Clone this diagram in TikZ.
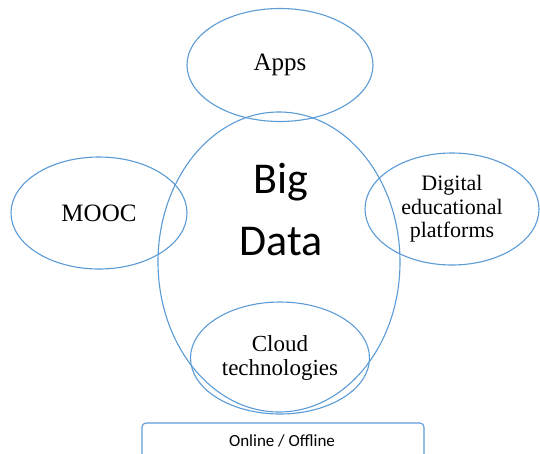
\documentclass[tikz,border=0pt]{standalone}
\usepackage{fontspec}
\setmainfont{Liberation Serif}
\newfontfamily\calibri{Carlito}
\usetikzlibrary{shapes.geometric}

\definecolor{ringblue}{RGB}{91,155,213}

\begin{document}
\begin{tikzpicture}[x=1pt, y=-1pt,
  ring/.style={draw=ringblue, line width=1.1pt, ellipse, inner sep=0pt,
    align=center, font=\fontsize{23}{23.5}\selectfont},
  tag/.style={draw=ringblue, line width=1.1pt, rounded corners=4pt}]

\useasboundingbox (0,0) rectangle (540,453);
\clip (0,0) rectangle (540,453);

% Centre ring
\node[ring, minimum width=242pt, minimum height=300pt] (core) at (279,262) {};
\node[align=center, font=\calibri\fontsize{44}{62}\selectfont] (bigdata) at (281,210) {Big\\Data};

% Outer rings
\node[ring, minimum width=186pt, minimum height=113pt, font=\fontsize{25}{25}\selectfont] (apps) at (280,65) {Apps};
\node[ring, minimum width=176pt, minimum height=112pt, font=\fontsize{25}{25}\selectfont] (mooc) at (99,213) {MOOC};
\node[ring, minimum width=174pt, minimum height=112pt, font=\fontsize{22}{23.5}\selectfont] (edu) at (452,209) {Digital\\educational\\platforms};
\node[ring, minimum width=179pt, minimum height=112pt] (cloud) at (280,358) {Cloud\\technologies};

% Bottom label box
\draw[tag] (142,423) rectangle (424,470);
\node[font=\calibri\fontsize{17}{18}\selectfont] (mode) at (282,441) {Online / Offline};

\end{tikzpicture}
\end{document}
